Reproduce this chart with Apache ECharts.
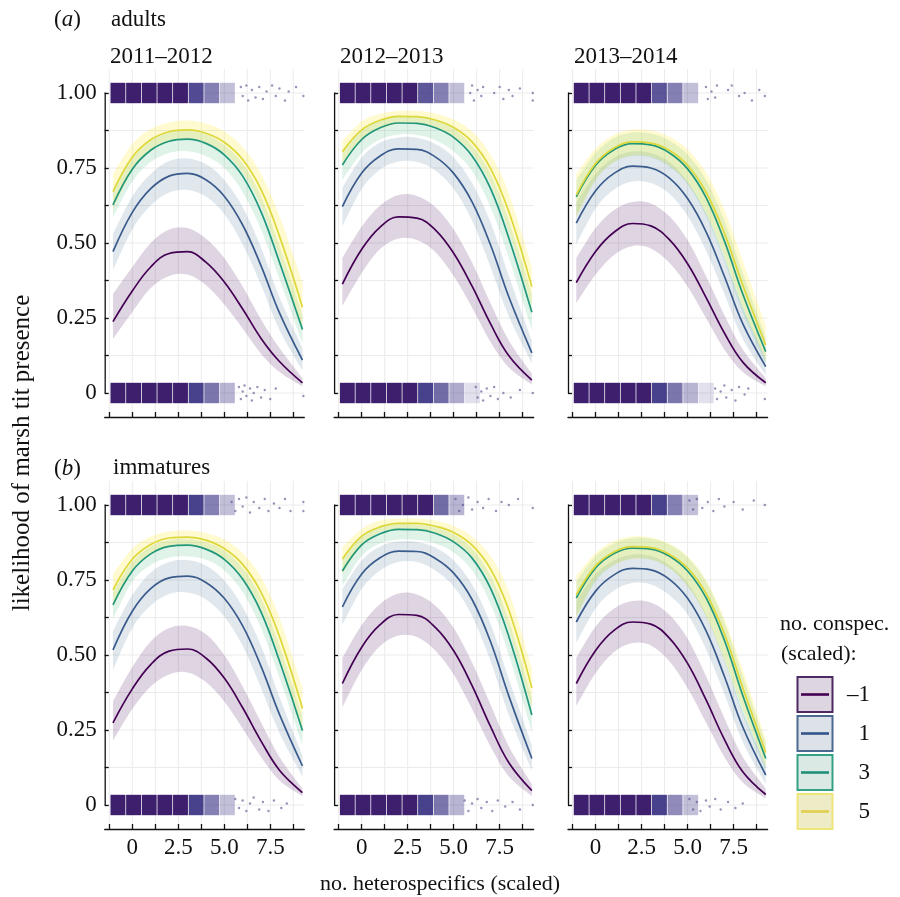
<!DOCTYPE html>
<html><head><meta charset="utf-8">
<script src="https://cdn.jsdelivr.net/npm/echarts@6/dist/echarts.min.js"></script>
<style>html,body{margin:0;padding:0;background:#fff}#c{width:900px;height:897px}</style>
</head><body><div id="c"></div>
<script>
// ---------- data ----------
const xPts = [-1.05, 0, 1, 2, 3, 4, 5, 6, 7, 8, 9.25];
const levelLabels = ['\u20131', '1', '3', '5'];
const xTicks = [-1.25, 0, 1.25, 2.5, 3.75, 5, 6.25, 7.5, 8.75];
const xTickLabels = [0, 2.5, 5, 7.5];
const yTicks = [0, 0.125, 0.25, 0.375, 0.5, 0.625, 0.75, 0.875, 1];
const yTickLabels = [0, 0.25, 0.5, 0.75, 1];
const yearLabels = ['2011\u20132012', '2012\u20132013', '2013\u20132014'];
const binX = [-0.78, 0.07, 0.92, 1.77, 2.62, 3.47, 4.32, 5.17, 6.02, 6.87, 7.72, 8.57];

// order in each list: conspec -1, 1, 3, 5
// (a) adults 2011–2012
const adults1112_mean = [
 [.238,.340,.42,.465,.471,.436,.370,.28,.182,.105,.034],
 [.471,.602,.681,.723,.732,.711,.656,.560,.424,.267,.11],
 [.627,.746,.809,.839,.846,.832,.794,.723,.604,.436,.212],
 [.671,.786,.844,.871,.877,.866,.836,.778,.678,.523,.286]];
const adults1112_lo = [
 [.18,.27,.35,.39,.395,.36,.295,.215,.13,.07,.022],
 [.41,.545,.625,.668,.677,.655,.597,.495,.36,.21,.075],
 [.585,.705,.77,.80,.806,.79,.75,.67,.545,.38,.165],
 [.61,.74,.805,.838,.845,.835,.80,.735,.625,.455,.21]];
const adults1112_hi = [
 [.33,.42,.50,.545,.55,.515,.45,.355,.245,.15,.05],
 [.53,.655,.73,.773,.782,.763,.71,.62,.485,.32,.15],
 [.67,.78,.84,.868,.874,.862,.827,.765,.655,.49,.26],
 [.73,.83,.88,.902,.908,.898,.872,.82,.73,.59,.37]];
const adults1112_topDensity = [1,1,1,1,1,0.85,0.6,0.3,0,0,0,0];
const adults1112_botDensity = [1,1,1,1,1,0.9,0.65,0.35,0,0,0,0];
const adults1112_topDots = [[5.9,1.02],[6.0,0.99],[6.2,1.025],[6.3,0.975],[6.5,1.01],[6.7,0.985],[6.9,1.02],[7.1,0.98],[7.3,1.005],[7.6,1.025],[7.8,0.99],[8.0,1.015],[8.3,0.975],[8.5,1.005],[8.9,1.02],[9.3,0.99]];
const adults1112_botDots = [[5.8,0.02],[5.9,-0.02],[6.0,0.005],[6.1,0.025],[6.2,-0.01],[6.4,0.015],[6.5,-0.025],[6.6,0.0],[6.8,0.02],[7.0,-0.015],[7.2,0.01],[7.5,-0.02],[7.8,0.015],[9.3,-0.01]];

// (a) adults 2012–2013
const adults1213_mean = [
 [.363,.479,.553,.587,.583,.544,.466,.356,.231,.124,.043],
 [.621,.733,.790,.814,.812,.787,.732,.637,.494,.320,.134],
 [.76,.845,.884,.900,.899,.884,.852,.790,.682,.516,.269],
 [.804,.877,.909,.922,.921,.910,.885,.837,.749,.604,.354]];
const adults1213_lo = [
 [.29,.40,.48,.515,.51,.47,.39,.285,.17,.085,.028],
 [.555,.68,.745,.772,.77,.742,.68,.575,.42,.255,.10],
 [.71,.80,.845,.862,.86,.843,.805,.74,.62,.45,.21],
 [.76,.845,.88,.897,.897,.885,.855,.80,.70,.54,.29]];
const adults1213_hi = [
 [.45,.555,.625,.66,.657,.62,.545,.435,.30,.175,.065],
 [.685,.785,.835,.852,.851,.83,.785,.70,.57,.39,.175],
 [.80,.875,.908,.922,.921,.908,.88,.825,.73,.575,.33],
 [.84,.905,.93,.94,.94,.932,.912,.872,.795,.665,.42]];
const adults1213_topDensity = [1,1,1,1,1,0.8,0.6,0.3,0,0,0,0];
const adults1213_botDensity = [1,1,1,1,1,0.9,0.7,0.4,0.15,0,0,0];
const adults1213_topDots = [[5.9,1.0],[6.0,1.025],[6.1,0.975],[6.3,1.01],[6.5,0.99],[6.6,1.02],[7.2,1.0],[7.5,1.02],[7.7,0.98],[8.0,1.01],[8.2,0.99],[8.6,1.015],[9.3,1.0],[9.3,0.975]];
const adults1213_botDots = [[6.2,0.02],[6.3,-0.015],[6.5,0.005],[6.6,-0.025],[6.8,0.015],[7.0,-0.01],[7.2,0.02],[7.4,-0.02],[7.7,0.0],[8.1,-0.015],[8.6,0.01],[9.3,0.0]];

// (a) adults 2013–2014
const adults1314_mean = [
 [.368,.472,.536,.565,.557,.512,.431,.319,.20,.103,.034],
 [.566,.674,.732,.756,.750,.717,.648,.538,.389,.231,.088],
 [.654,.759,.811,.831,.827,.801,.747,.652,.507,.330,.138],
 [.66,.765,.817,.837,.833,.809,.759,.670,.533,.360,.16]];
const adults1314_lo = [
 [.30,.395,.46,.49,.482,.435,.355,.25,.145,.07,.022],
 [.495,.615,.678,.705,.70,.665,.59,.475,.33,.18,.06],
 [.59,.71,.77,.79,.785,.755,.695,.59,.44,.265,.10],
 [.585,.71,.77,.792,.788,.758,.70,.60,.455,.285,.11]];
const adults1314_hi = [
 [.45,.55,.61,.637,.632,.59,.51,.39,.26,.145,.05],
 [.635,.73,.785,.805,.80,.77,.705,.60,.45,.285,.12],
 [.71,.80,.85,.868,.865,.842,.795,.71,.575,.40,.185],
 [.73,.815,.86,.878,.875,.855,.812,.735,.61,.44,.225]];
const adults1314_topDensity = [1,1,1,1,1,0.8,0.6,0.3,0,0,0,0];
const adults1314_botDensity = [1,1,1,1,1,0.9,0.65,0.35,0.15,0,0,0];
const adults1314_topDots = [[6.0,1.02],[6.1,0.98],[6.3,1.005],[6.5,0.985],[6.6,1.025],[7.2,1.01],[7.4,1.025],[7.8,0.99],[8.1,1.0],[8.5,0.975],[8.9,1.01],[9.2,0.99]];
const adults1314_botDots = [[6.5,0.015],[6.6,-0.02],[6.8,0.005],[7.0,0.025],[7.1,-0.015],[7.4,0.01],[7.6,-0.025],[7.8,0.02],[8.1,-0.005],[8.3,0.015],[9.2,-0.02]];

// (b) immatures 2011–2012
const imm1112_mean = [
 [.274,.387,.468,.513,.520,.490,.423,.324,.213,.116,.041],
 [.517,.646,.721,.757,.763,.742,.689,.597,.462,.302,.13],
 [.667,.780,.837,.862,.866,.853,.819,.753,.643,.480,.248],
 [.717,.819,.868,.890,.893,.883,.855,.802,.709,.562,.322]];
const imm1112_lo = [
 [.215,.32,.395,.435,.442,.41,.345,.255,.16,.082,.03],
 [.45,.59,.665,.703,.708,.685,.628,.53,.39,.24,.095],
 [.62,.745,.80,.825,.828,.818,.782,.71,.59,.425,.20],
 [.66,.78,.835,.862,.866,.855,.822,.76,.655,.495,.255]];
const imm1112_hi = [
 [.345,.46,.545,.59,.597,.57,.50,.395,.275,.16,.055],
 [.58,.70,.775,.81,.817,.798,.748,.66,.53,.36,.165],
 [.71,.81,.862,.883,.886,.876,.848,.79,.69,.53,.295],
 [.77,.855,.895,.912,.915,.907,.885,.84,.76,.625,.39]];
const imm1112_topDensity = [1,1,1,1,1,0.9,0.6,0.3,0,0,0,0];
const imm1112_botDensity = [1,1,1,1,1,0.9,0.6,0.3,0,0,0,0];
const imm1112_topDots = [[5.4,1.01],[5.6,0.98],[5.8,1.02],[6.0,0.995],[6.2,1.025],[6.4,0.975],[6.6,1.01],[6.9,0.99],[7.2,1.02],[7.4,0.98],[7.7,1.005],[8.0,0.99],[8.3,1.02],[8.6,0.98],[9.3,1.01],[9.3,0.98]];
const imm1112_botDots = [[5.6,0.02],[5.8,-0.01],[6.0,0.015],[6.2,-0.02],[6.4,0.005],[6.6,0.025],[6.9,-0.015],[7.1,0.01],[7.4,-0.02],[7.7,0.015],[8.1,-0.01],[8.4,0.005]];

// (b) immatures 2012–2013
const imm1213_mean = [
 [.405,.526,.601,.635,.632,.592,.514,.398,.262,.141,.048],
 [.66,.77,.824,.846,.845,.822,.773,.685,.545,.363,.155],
 [.78,.867,.904,.919,.918,.906,.877,.823,.723,.561,.30],
 [.82,.896,.927,.939,.939,.929,.908,.866,.787,.649,.39]];
const imm1213_lo = [
 [.325,.45,.53,.565,.56,.515,.435,.32,.195,.095,.03],
 [.60,.72,.782,.81,.81,.782,.728,.63,.48,.30,.115],
 [.73,.83,.872,.885,.884,.872,.842,.782,.672,.50,.245],
 [.77,.865,.91,.92,.92,.908,.882,.83,.74,.585,.325]];
const imm1213_hi = [
 [.49,.60,.67,.705,.702,.665,.59,.475,.335,.195,.07],
 [.72,.815,.862,.878,.877,.858,.815,.735,.605,.42,.20],
 [.82,.895,.925,.936,.935,.925,.902,.855,.765,.615,.36],
 [.86,.92,.948,.955,.955,.948,.93,.895,.83,.71,.455]];
const imm1213_topDensity = [1,1,1,1,1,0.95,0.7,0.35,0,0,0,0];
const imm1213_botDensity = [1,1,1,1,1,0.9,0.65,0.35,0,0,0,0];
const imm1213_topDots = [[5.1,1.02],[5.3,0.98],[5.5,1.0],[5.8,1.025],[6.0,0.985],[6.3,1.01],[6.6,0.99],[6.9,1.02],[7.3,0.98],[7.6,1.01],[8.0,1.0],[8.5,1.02],[9.3,0.99]];
const imm1213_botDots = [[5.6,0.015],[5.8,-0.02],[6.0,0.005],[6.3,0.02],[6.5,-0.01],[6.8,0.01],[7.1,-0.02],[7.4,0.015],[7.8,-0.005],[8.2,0.01],[8.6,-0.015],[9.3,0.0]];

// (b) immatures 2013–2014
const imm1314_mean = [
 [.405,.515,.582,.61,.603,.557,.472,.351,.219,.111,.035],
 [.61,.713,.767,.789,.784,.753,.689,.581,.429,.26,.10],
 [.69,.79,.838,.856,.853,.83,.78,.691,.549,.365,.155],
 [.70,.797,.843,.861,.858,.836,.79,.706,.571,.391,.175]];
const imm1314_lo = [
 [.33,.44,.51,.54,.532,.48,.39,.275,.16,.075,.022],
 [.54,.655,.715,.74,.735,.70,.635,.52,.37,.21,.07],
 [.63,.745,.80,.822,.818,.79,.73,.63,.48,.30,.115],
 [.625,.75,.80,.82,.818,.79,.73,.63,.485,.32,.13]];
const imm1314_hi = [
 [.49,.595,.655,.68,.675,.635,.555,.43,.29,.16,.055],
 [.68,.77,.815,.835,.83,.80,.74,.635,.485,.31,.135],
 [.745,.83,.872,.89,.888,.868,.825,.745,.61,.43,.205],
 [.765,.84,.88,.895,.892,.872,.83,.75,.62,.45,.22]];
const imm1314_topDensity = [1,1,1,1,1,0.9,0.6,0.3,0,0,0,0];
const imm1314_botDensity = [1,1,1,1,1,0.9,0.55,0.3,0,0,0,0];
const imm1314_topDots = [[5.1,1.015],[5.3,0.985],[5.5,1.02],[5.8,0.99],[6.1,1.01],[6.4,0.98],[6.7,1.02],[7.0,0.995],[7.5,1.01],[8.0,0.985],[8.6,1.015],[9.2,1.0]];
const imm1314_botDots = [[5.1,0.02],[5.3,-0.015],[5.5,0.01],[5.7,-0.02],[6.0,0.015],[6.2,-0.005],[6.5,0.02],[6.8,-0.015],[7.2,0.01],[7.6,-0.01],[8.0,0.005]];

// ---------- styling / layout ----------
const FONT = '"Liberation Serif", "DejaVu Serif", serif';
const lineColors = ['#440154', '#3a5b8c', '#22977a', '#dcd83c'];
const bandColors = ['rgba(68,1,84,0.17)', 'rgba(49,104,142,0.15)', 'rgba(53,183,121,0.16)', 'rgba(253,231,37,0.22)'];
const xMin = -1.5, xMax = 9.35, yMin = -0.08, yMax = 1.08;
const gridLefts = [104.7, 334.1, 568];
const gridTops = [69, 481];
const gridW = 199.6, gridH = 348;

const panels = [
 {row:0,col:0,mean:adults1112_mean,lo:adults1112_lo,hi:adults1112_hi,topD:adults1112_topDensity,botD:adults1112_botDensity,topDots:adults1112_topDots,botDots:adults1112_botDots},
 {row:0,col:1,mean:adults1213_mean,lo:adults1213_lo,hi:adults1213_hi,topD:adults1213_topDensity,botD:adults1213_botDensity,topDots:adults1213_topDots,botDots:adults1213_botDots},
 {row:0,col:2,mean:adults1314_mean,lo:adults1314_lo,hi:adults1314_hi,topD:adults1314_topDensity,botD:adults1314_botDensity,topDots:adults1314_topDots,botDots:adults1314_botDots},
 {row:1,col:0,mean:imm1112_mean,lo:imm1112_lo,hi:imm1112_hi,topD:imm1112_topDensity,botD:imm1112_botDensity,topDots:imm1112_topDots,botDots:imm1112_botDots},
 {row:1,col:1,mean:imm1213_mean,lo:imm1213_lo,hi:imm1213_hi,topD:imm1213_topDensity,botD:imm1213_botDensity,topDots:imm1213_topDots,botDots:imm1213_botDots},
 {row:1,col:2,mean:imm1314_mean,lo:imm1314_lo,hi:imm1314_hi,topD:imm1314_topDensity,botD:imm1314_botDensity,topDots:imm1314_topDots,botDots:imm1314_botDots}
];

// smooth (Catmull-Rom) path through pixel points
function smoothSegs(pts, start) {
  let d = start ? 'M' + pts[0][0] + ',' + pts[0][1] : 'L' + pts[0][0] + ',' + pts[0][1];
  for (let i = 0; i < pts.length - 1; i++) {
    const p0 = pts[Math.max(0, i - 1)], p1 = pts[i], p2 = pts[i + 1], p3 = pts[Math.min(pts.length - 1, i + 2)];
    const c1x = p1[0] + (p2[0] - p0[0]) / 6, c1y = p1[1] + (p2[1] - p0[1]) / 6;
    const c2x = p2[0] - (p3[0] - p1[0]) / 6, c2y = p2[1] - (p3[1] - p1[1]) / 6;
    d += 'C' + c1x + ',' + c1y + ',' + c2x + ',' + c2y + ',' + p2[0] + ',' + p2[1];
  }
  return d;
}

const grids = [], xAxes = [], yAxes = [], series = [];
panels.forEach((p, i) => {
  grids.push({left: gridLefts[p.col], top: gridTops[p.row], width: gridW, height: gridH});
  xAxes.push({type:'value', gridIndex:i, min:xMin, max:xMax, z:10,
    axisLine:{show:true, onZero:false, lineStyle:{color:'#111', width:1.3}},
    axisTick:{show:true, inside:true, length:5, customValues:xTicks, lineStyle:{color:'#111', width:1.3}},
    axisLabel:{show:p.row===1, customValues:xTickLabels, margin:7, color:'#111', fontFamily:FONT, fontSize:23,
      formatter:v => v === 0 ? '0' : v.toFixed(1)},
    splitLine:{show:false}});
  yAxes.push({type:'value', gridIndex:i, min:yMin, max:yMax, z:10,
    axisLine:{show:false, onZero:false},
    axisTick:{show:true, inside:true, length:4, customValues:yTicks, lineStyle:{color:'#111', width:1.3}},
    axisLabel:{show:p.col===0, customValues:yTickLabels, margin:8, color:'#111', fontFamily:FONT, fontSize:23,
      formatter:v => v === 0 ? '0' : v.toFixed(2)},
    splitLine:{show:false}});

  // background grid lines
  series.push({type:'custom', xAxisIndex:i, yAxisIndex:i, z:1, silent:true, data:[[0,0]],
    renderItem:(params, api) => {
      const ch = [];
      xTicks.forEach(v => { const a = api.coord([v, yMin]), b = api.coord([v, yMax]);
        ch.push({type:'line', shape:{x1:a[0],y1:a[1],x2:b[0],y2:b[1]}, style:{stroke:'#ebebeb', lineWidth:1}}); });
      yTicks.forEach(v => { const a = api.coord([xMin, v]), b = api.coord([xMax, v]);
        ch.push({type:'line', shape:{x1:a[0],y1:a[1],x2:b[0],y2:b[1]}, style:{stroke:'#ebebeb', lineWidth:1}}); });
      return {type:'group', children:ch};
    }});

  // confidence bands
  for (let k = 0; k < 4; k++) {
    const lo = p.lo[k], hi = p.hi[k], col = bandColors[k];
    series.push({type:'custom', xAxisIndex:i, yAxisIndex:i, z:2, silent:true, data:[[xPts[0], lo[0]]],
      renderItem:(params, api) => {
        const up = xPts.map((x, j) => api.coord([x, hi[j]]));
        const dn = xPts.map((x, j) => api.coord([x, lo[j]])).reverse();
        const d = smoothSegs(up, true) + smoothSegs(dn, false) + 'Z';
        return {type:'path', shape:{pathData:d}, style:{fill:col}};
      }});
  }

  // jittered observation strips
  const stripData = [];
  p.topD.forEach((d, j) => { if (d > 0) stripData.push([binX[j], d, 1]); });
  p.botD.forEach((d, j) => { if (d > 0) stripData.push([binX[j], d, 0]); });
  series.push({type:'custom', xAxisIndex:i, yAxisIndex:i, z:3, silent:true, data:stripData, encode:{x:0, y:2},
    renderItem:(params, api) => {
      const x = api.value(0), d = api.value(1), yc = api.value(2);
      const a = api.coord([x - 0.405, yc + 0.034]), b = api.coord([x + 0.405, yc - 0.034]);
      const fill = d >= 0.95 ? 'rgb(61,31,110)' : 'rgba(52,44,128,' + d + ')';
      return {type:'rect', shape:{x:a[0], y:a[1], width:b[0]-a[0], height:b[1]-a[1]}, style:{fill:fill}};
    }});
  series.push({type:'scatter', xAxisIndex:i, yAxisIndex:i, z:3, silent:true, symbolSize:2.4,
    itemStyle:{color:'rgba(70,62,130,0.7)'}, data:p.topDots.concat(p.botDots)});

  // fitted curves
  for (let k = 0; k < 4; k++) {
    series.push({type:'line', xAxisIndex:i, yAxisIndex:i, z:4, silent:true, smooth:0.4, symbol:'none',
      lineStyle:{color:lineColors[k], width:1.7}, data:xPts.map((x, j) => [x, p.mean[k][j]])});
  }

  // bracket-style y axis line from 0 to 1
  series.push({type:'custom', xAxisIndex:i, yAxisIndex:i, z:5, silent:true, data:[[0,0]],
    renderItem:(params, api) => {
      const a = api.coord([xMin, 0]), b = api.coord([xMin, 1]);
      return {type:'line', shape:{x1:a[0]+0.5, y1:a[1]+0.6, x2:b[0]+0.5, y2:b[1]-0.6}, style:{stroke:'#111', lineWidth:1.3}};
    }});
});

// ---------- text & legend ----------
const txt = (text, x, y, opt) => Object.assign({type:'text', x:x, y:y, silent:true,
  style:Object.assign({text:text, fill:'#111', fontFamily:FONT, fontSize:23, align:'left', verticalAlign:'middle'}, opt || {})});
const rich = {n:{fontFamily:FONT, fontSize:23, fill:'#111'}, i:{fontFamily:FONT, fontSize:23, fontStyle:'italic', fill:'#111'}};
const graphics = [
  txt('{n|(}{i|a}{n|)}', 54, 20, {rich:rich}),
  txt('adults', 111, 20),
  txt(yearLabels[0], 110, 57),
  txt(yearLabels[1], 340, 57),
  txt(yearLabels[2], 574, 57),
  txt('{n|(}{i|b}{n|)}', 54, 469, {rich:rich}),
  txt('immatures', 113, 468),
  Object.assign(txt('likelihood of marsh tit presence', 22, 453, {align:'center', fontSize:25}), {rotation:Math.PI/2}),
  txt('no. heterospecifics (scaled)', 440, 884, {align:'center', fontSize:22}),
  txt('no. conspec.', 780, 624, {fontSize:22}),
  txt('(scaled):', 781, 654, {fontSize:22})
];
const keyFill = ['#ddd6e0', '#dde2e9', '#dbe9e4', '#eeecc6'];
const keyStroke = ['#4e2a62', '#4a6a92', '#35a184', '#efe67a'];
const keyLine = ['#440154', '#34558a', '#1f8f77', '#e0cf4c'];
for (let k = 0; k < 4; k++) {
  const y0 = 677 + k * 39;
  graphics.push({type:'rect', silent:true, shape:{x:797.5, y:y0, width:35, height:35},
    style:{fill:keyFill[k], stroke:keyStroke[k], lineWidth:2}});
  graphics.push({type:'line', silent:true, shape:{x1:801, y1:y0+17.5, x2:829, y2:y0+17.5},
    style:{stroke:keyLine[k], lineWidth:2.6}});
  graphics.push(txt(levelLabels[k], 870, y0 + 18, {align:'right'}));
}

const chart = echarts.init(document.getElementById('c'), null, {renderer:'canvas'});
chart.setOption({
  animation:false,
  backgroundColor:'#fff',
  grid:grids, xAxis:xAxes, yAxis:yAxes, series:series, graphic:graphics
});
</script>
</body></html>
